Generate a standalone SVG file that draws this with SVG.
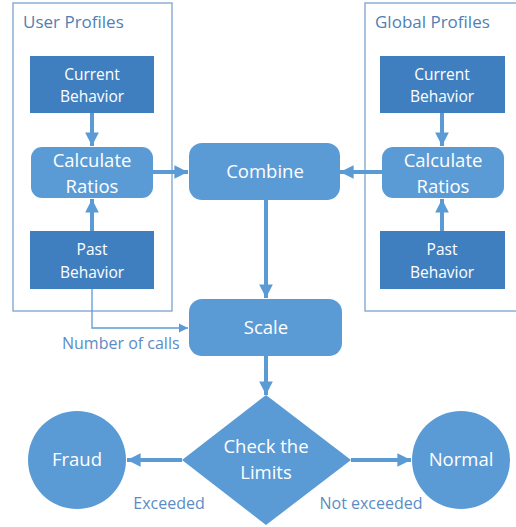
<svg xmlns="http://www.w3.org/2000/svg" width="516" height="527" viewBox="0 0 516 527">
<defs>
<style>
.frame{fill:none;stroke:#7aa2d0;stroke-width:1.3}
.dark{fill:#3f7fc0}
.light{fill:#5b9bd5}
.t{font-family:"Open Sans","Noto Sans",sans-serif;fill:#fff;text-anchor:middle}
.sm{font-size:15.5px}
.lg{font-size:18.5px}
.lbl{font-family:"Open Sans","Noto Sans",sans-serif;fill:#5b8cc4;font-size:16px}
.title{font-family:"Open Sans","Noto Sans",sans-serif;fill:#4f7fb5;font-size:17px}
.thick{stroke:#5b9bd5;stroke-width:4;fill:none}
.thin{stroke:#5b9bd5;stroke-width:1.3;fill:none}
</style>
<marker id="ah" viewBox="0 0 10 10" refX="10" refY="5" markerWidth="3.4" markerHeight="3.4" orient="auto" markerUnits="strokeWidth">
<path d="M0,0 L10,5 L0,10 z" fill="#5b9bd5"/>
</marker>
<marker id="ahs" viewBox="0 0 10 10" refX="10" refY="5" markerWidth="7" markerHeight="7" orient="auto" markerUnits="strokeWidth">
<path d="M0,0 L10,5 L0,10 z" fill="#5b9bd5"/>
</marker>
</defs>
<g id="user-profiles">
<rect class="frame" x="13" y="3" width="159" height="308"/>
<text class="title" x="23" y="28">User Profiles</text>
</g>
<g id="global-profiles">
<rect class="frame" x="365" y="3" width="160" height="308"/>
<text class="title" x="375" y="28">Global Profiles</text>
</g>
<g id="connectors">
<line class="thick" x1="92" y1="113" x2="92" y2="146" marker-end="url(#ah)"/>
<line class="thick" x1="92" y1="231" x2="92" y2="199" marker-end="url(#ah)"/>
<line class="thick" x1="153" y1="172" x2="188" y2="172" marker-end="url(#ah)"/>
<line class="thick" x1="442" y1="113" x2="442" y2="146" marker-end="url(#ah)"/>
<line class="thick" x1="442" y1="231" x2="442" y2="199" marker-end="url(#ah)"/>
<line class="thick" x1="382" y1="172" x2="340" y2="172" marker-end="url(#ah)"/>
<line class="thick" x1="266" y1="200" x2="266" y2="298" marker-end="url(#ah)"/>
<line class="thick" x1="266" y1="356" x2="266" y2="395" marker-end="url(#ah)"/>
<line class="thick" x1="182" y1="460" x2="127" y2="460" marker-end="url(#ah)"/>
<line class="thick" x1="351" y1="460" x2="411" y2="460" marker-end="url(#ah)"/>
<polyline class="thin" points="92,289 92,328 188,328" marker-end="url(#ahs)"/>
<text class="lbl" x="62" y="349">Number of calls</text>
<text class="lbl" x="169" y="509" text-anchor="middle">Exceeded</text>
<text class="lbl" x="371" y="509" text-anchor="middle">Not exceeded</text>
</g>
<g id="user-current">
<rect class="dark" x="30" y="56" width="124" height="57"/>
<text class="t sm" x="92" y="80">Current</text>
<text class="t sm" x="92" y="102">Behavior</text>
</g>
<g id="user-calc">
<rect class="light" x="31" y="147" width="122" height="51" rx="11"/>
<text class="t lg" x="92" y="167">Calculate</text>
<text class="t lg" x="92" y="193">Ratios</text>
</g>
<g id="user-past">
<rect class="dark" x="30" y="231" width="124" height="58"/>
<text class="t sm" x="92" y="255">Past</text>
<text class="t sm" x="92" y="278">Behavior</text>
</g>
<g id="global-current">
<rect class="dark" x="380" y="56" width="125" height="57"/>
<text class="t sm" x="442" y="80">Current</text>
<text class="t sm" x="442" y="102">Behavior</text>
</g>
<g id="global-calc">
<rect class="light" x="382" y="147" width="122" height="51" rx="11"/>
<text class="t lg" x="443" y="167">Calculate</text>
<text class="t lg" x="443" y="193">Ratios</text>
</g>
<g id="global-past">
<rect class="dark" x="380" y="231" width="125" height="58"/>
<text class="t sm" x="442" y="255">Past</text>
<text class="t sm" x="442" y="278">Behavior</text>
</g>
<g id="combine">
<rect class="light" x="189" y="143" width="151" height="57" rx="13"/>
<text class="t lg" x="265" y="178">Combine</text>
</g>
<g id="scale">
<rect class="light" x="189" y="299" width="153" height="57" rx="13"/>
<text class="t lg" x="266" y="334">Scale</text>
</g>
<g id="check">
<polygon class="light" points="266,395 351,460 266,525 182,460"/>
<text class="t lg" x="266" y="453">Check the</text>
<text class="t lg" x="266" y="479">Limits</text>
</g>
<g id="fraud">
<circle class="light" cx="77" cy="460" r="49"/>
<text class="t lg" x="77" y="466">Fraud</text>
</g>
<g id="normal">
<circle class="light" cx="461" cy="460" r="49"/>
<text class="t lg" x="461" y="466">Normal</text>
</g>
</svg>
